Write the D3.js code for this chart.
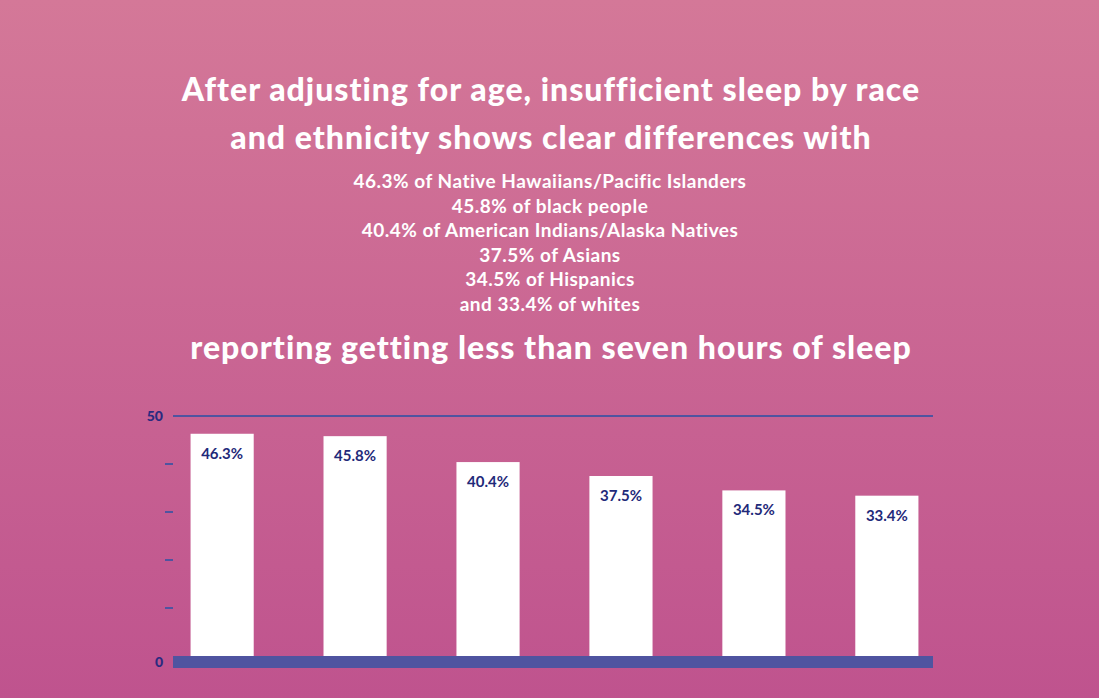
<!DOCTYPE html>
<html><head><meta charset="utf-8">
<script src="https://cdn.jsdelivr.net/npm/d3@7"></script>
<style>body{margin:0;}svg{display:block;}</style>
</head><body>
<script>
const categories = ["Native Hawaiians/Pacific Islanders","Black","American Indians/Alaska Natives","Asians","Hispanics","Whites"];
const values = [46.3, 45.8, 40.4, 37.5, 34.5, 33.4];
const yTicks = [0, 10, 20, 30, 40, 50];
const titleTop = ["After adjusting for age, insufficient sleep by race","and ethnicity shows clear differences with"];
const subLines = ["46.3% of Native Hawaiians/Pacific Islanders","45.8% of black people","40.4% of American Indians/Alaska Natives","37.5% of Asians","34.5% of Hispanics","and 33.4% of whites"];
const titleBottom = "reporting getting less than seven hours of sleep";

const W = 1099, H = 698;
const svg = d3.select("body").append("svg").attr("width", W).attr("height", H);
const defs = svg.append("defs");
const g = defs.append("linearGradient").attr("id","bg").attr("x1",0).attr("y1",0).attr("x2",0).attr("y2",1);
g.append("stop").attr("offset","0%").attr("stop-color","#d47898");
g.append("stop").attr("offset","100%").attr("stop-color","#bf538e");
svg.append("rect").attr("width",W).attr("height",H).attr("fill","url(#bg)");

const font = "Lato, 'Open Sans', sans-serif";
titleTop.forEach((t,i)=>svg.append("text").attr("x",551).attr("y",101+i*48).attr("text-anchor","middle")
  .attr("fill","#fff").attr("font-family",font).attr("font-weight",900).attr("font-size",32).attr("letter-spacing",1).text(t));
subLines.forEach((t,i)=>svg.append("text").attr("x",550).attr("y",188+i*24.6).attr("text-anchor","middle")
  .attr("fill","#fff").attr("font-family",font).attr("font-weight",700).attr("font-size",19).attr("letter-spacing",0.5).text(t));
svg.append("text").attr("x",551).attr("y",359).attr("text-anchor","middle")
  .attr("fill","#fff").attr("font-family",font).attr("font-weight",900).attr("font-size",32).attr("letter-spacing",1).text(titleBottom);

const y = d3.scaleLinear().domain([0,50]).range([656,416]);
const x = d3.scaleBand().domain(categories).range([156,953]).paddingInner(0.525).paddingOuter(0.26);

// ticks
svg.selectAll(".tk").data(yTicks.filter(d=>d>0 && d<50)).join("line")
  .attr("x1",165).attr("x2",173).attr("y1",d=>y(d)).attr("y2",d=>y(d)).attr("stroke","#4f54a0").attr("stroke-width",2);
svg.append("line").attr("x1",173).attr("x2",933).attr("y1",y(50)).attr("y2",y(50)).attr("stroke","#4f54a0").attr("stroke-width",2);
svg.selectAll(".tl").data([0,50]).join("text").attr("x",163).attr("y",d=>y(d)+(d===0?11:5))
  .attr("text-anchor","end").attr("fill","#2a2a80").attr("font-family",font).attr("font-weight",900).attr("font-size",14).text(d=>d);

svg.selectAll(".bar").data(values).join("rect")
  .attr("x",(d,i)=>x(categories[i])).attr("width",x.bandwidth())
  .attr("y",d=>y(d)).attr("height",d=>y(0)-y(d)).attr("fill","#fff");
svg.selectAll(".vl").data(values).join("text")
  .attr("x",(d,i)=>x(categories[i])+x.bandwidth()/2).attr("y",d=>y(d)+25)
  .attr("text-anchor","middle").attr("fill","#1f2a7a").attr("font-family",font).attr("font-weight",700).attr("font-size",15)
  .text(d=>d.toFixed(1)+"%");
svg.append("rect").attr("x",173).attr("width",760).attr("y",656).attr("height",12).attr("fill","#4f54a0");
</script>
</body></html>
